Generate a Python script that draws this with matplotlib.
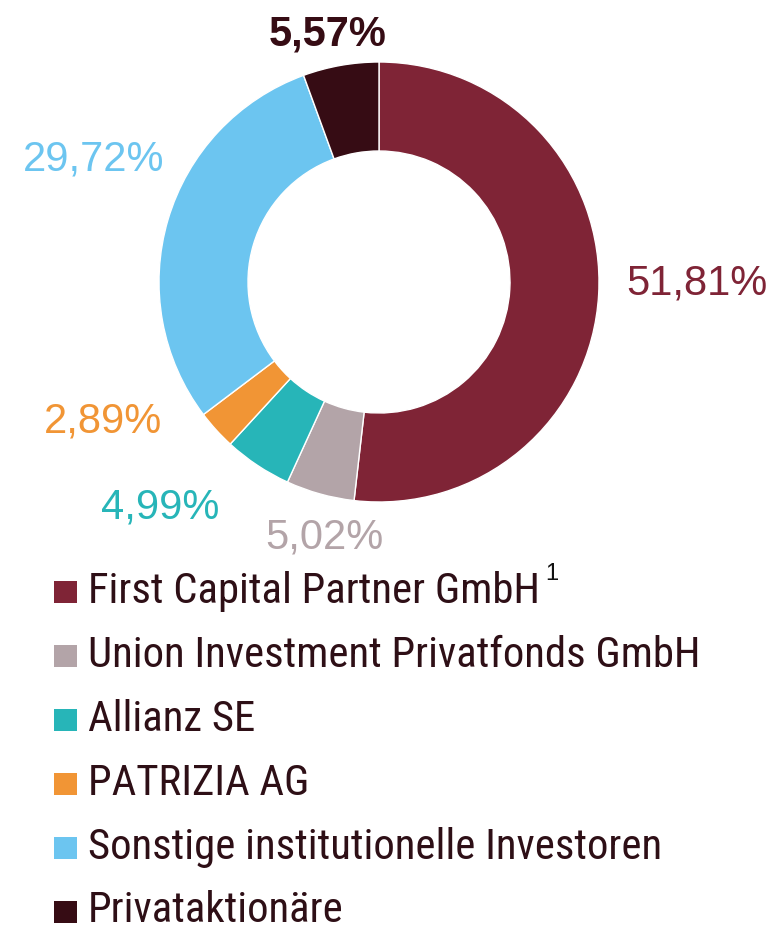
import matplotlib
matplotlib.use("Agg")
import matplotlib.pyplot as plt
from matplotlib.patches import Rectangle
from matplotlib import font_manager
from matplotlib.font_manager import FontProperties

# ---- data ----
categories = ["First Capital Partner GmbH", "Union Investment Privatfonds GmbH",
              "Allianz SE", "PATRIZIA AG", "Sonstige institutionelle Investoren",
              "Privataktionäre"]
shares = [51.81, 5.02, 4.99, 2.89, 29.72, 5.57]
colors = ["#7f2436", "#b3a4a8", "#27b5b8", "#f19535", "#6cc5f0", "#360c14"]

# ---- styling / layout (pixel units, origin top-left) ----
W, H = 780, 932
center = (379, 282)
r_out, r_in = 220, 131
# label anchor: (center x, baseline y)
label_pos = [(697, 294), (324, 548), (160, 518), (103.5, 433), (94, 170), (327.5, 45)]
label_weight = ["normal", "normal", "normal", "normal", "normal", "bold"]
legend_base0, legend_dy = 603, 63.9
text_dark = "#2e0f16"

names = {f.name for f in font_manager.fontManager.ttflist}
pct_family = "Liberation Sans" if "Liberation Sans" in names else "DejaVu Sans"

# pick a condensed font for the legend if one is installed
cands = []
for f in font_manager.fontManager.ttflist:
    fn = f.fname.lower()
    if ("narrow" in fn or "condensed" in fn) and "bold" not in fn and "italic" not in fn \
            and "oblique" not in fn and "light" not in fn and "black" not in fn \
            and "semi" not in fn and "medium" not in fn and "thin" not in fn:
        cands.append(f.fname)
def rank(fn):
    l = fn.lower().replace("-", "").replace("_", "")
    if "robotocondensed" in l:
        return 0
    if "liberationsansnarrow" in l:
        return 1
    if "dejavusanscondensed" in l:
        return 2
    return 3
cands.sort(key=rank)
legend_fp = FontProperties(fname=cands[0]) if cands else FontProperties(family="DejaVu Sans")

fig = plt.figure(figsize=(W / 100, H / 100), dpi=100)
ax = fig.add_axes([0, 0, 1, 1])

def Y(y):
    return H - y

ax.pie(shares, colors=colors, startangle=90, counterclock=False,
       center=(center[0], Y(center[1])), radius=r_out,
       wedgeprops=dict(width=r_out - r_in, edgecolor="white", linewidth=1))
ax.set_xlim(0, W)
ax.set_ylim(0, H)
ax.set_aspect("equal")
ax.axis("off")

for v, c, (x, y), wgt in zip(shares, colors, label_pos, label_weight):
    txt = f"{v:.2f}".replace(".", ",") + "%"
    ax.text(x, Y(y), txt, color=c, fontsize=30, fontfamily=pct_family,
            fontweight=wgt, ha="center", va="baseline")

renderer = fig.canvas.get_renderer()
legend_size = 30.8

texts = []
for i, (name, c) in enumerate(zip(categories, colors)):
    yb = legend_base0 + i * legend_dy
    ax.add_patch(Rectangle((54, Y(yb)), 23, 22, color=c, lw=0))
    t = ax.text(88, Y(yb), name, color=text_dark, fontproperties=legend_fp,
                fontsize=legend_size, ha="left", va="baseline")
    texts.append(t)

bb = texts[0].get_window_extent(renderer)
ax.text(bb.x1 + 12, Y(580), "1", color="#111111", fontfamily=pct_family,
        fontsize=17, ha="center", va="baseline")

fig.savefig("out.png", dpi=100)
